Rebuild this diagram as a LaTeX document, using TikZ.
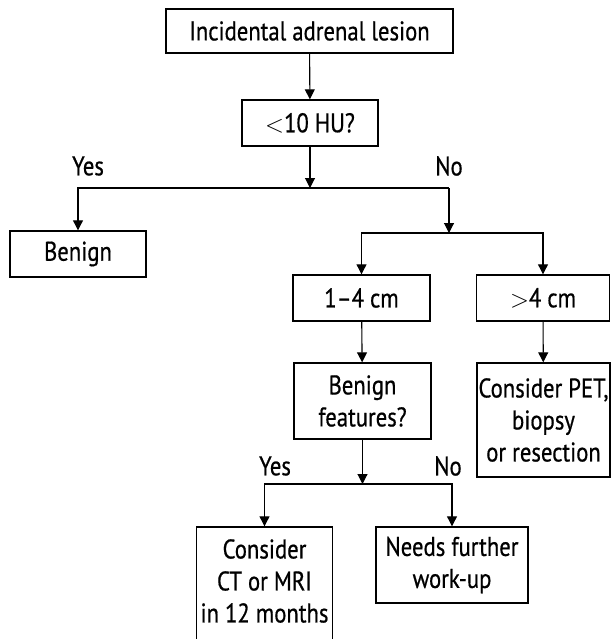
\documentclass[tikz,border=0pt]{standalone}
\usepackage{fontspec}
\setmainfont{PT Sans}[FakeStretch=0.84,FakeBold=0.6]
\usetikzlibrary{arrows.meta}
\begin{document}
\begin{tikzpicture}[x=1pt,y=-1pt,
  boxline/.style={draw, line width=1.4pt},
  box/.style={boxline, inner sep=0pt, align=center,
    font=\fontsize{27}{32}\selectfont},
  lbl/.style={inner sep=0pt, font=\fontsize{27}{30}\selectfont},
  conn/.style={line width=1.1pt},
  arr/.style={conn, -{Triangle[width=10pt,length=10pt]}}]
\useasboundingbox (0,0) rectangle (611,639);
\clip (0,0) rectangle (611,639);
% boxes
\node[box, minimum width=287pt, minimum height=44pt] (top) at (309.5,31) {Incidental adrenal lesion};
\node[box, minimum width=136pt, minimum height=46pt] (hu) at (310,123) {$<$10 HU?};
\node[box, minimum width=136pt, minimum height=46pt] (benign) at (78,254) {Benign};
\node[box, minimum width=137pt, minimum height=46pt] (small) at (361.5,298) {1–4 cm};
\node[box, minimum width=133pt, minimum height=46pt] (large) at (543,298) {$>$4 cm};
\node[box, minimum width=137pt, minimum height=76pt] (feat) at (362.5,401) {Benign\\features?};
\node[box, minimum width=133pt, minimum height=114pt] (pet) at (543.5,420) {Consider PET,\\biopsy\\or resection};
% the last box runs past the lower edge, so its frame is drawn on its own
\node[box, draw=none, outer sep=0pt, minimum width=136pt, minimum height=108pt] (ct) at (264.5,581) {Consider\\CT or MRI\\in 12 months};
\draw[boxline] (ct.north west) rectangle ([yshift=-14pt]ct.south east);
\node[box, minimum width=152pt, minimum height=76pt] (further) at (452,565) {Needs further\\work-up};
% junction points
\coordinate (j1) at (310,188);
\coordinate (j2) at (449,233);
\coordinate (j3) at (362.5,484);
% connectors
\draw[arr] (top) -- (hu);
\draw[arr] (hu) -- (j1);
\draw[arr] (j1) -| (benign.north);
\draw[conn] (j1) -- (j2 |- j1);
\draw[arr] (j2 |- j1) -- (j2);
\draw[arr] (j2) -| (small.north);
\draw[arr] (j2) -| (large.north);
\draw[arr] (small) -- (feat);
\draw[arr] (large) -- (pet);
\draw[arr] (feat) -- (j3);
\draw[arr] (j3) -| ([yshift=0.7pt]ct.north);
\draw[arr] (j3) -| (further.north);
% branch labels
\node[lbl] (yes1) at (88,166) {Yes};
\node[lbl] (no1) at (449,166) {No};
\node[lbl] (yes2) at (275,466) {Yes};
\node[lbl] (no2) at (448,466) {No};
\end{tikzpicture}
\end{document}
